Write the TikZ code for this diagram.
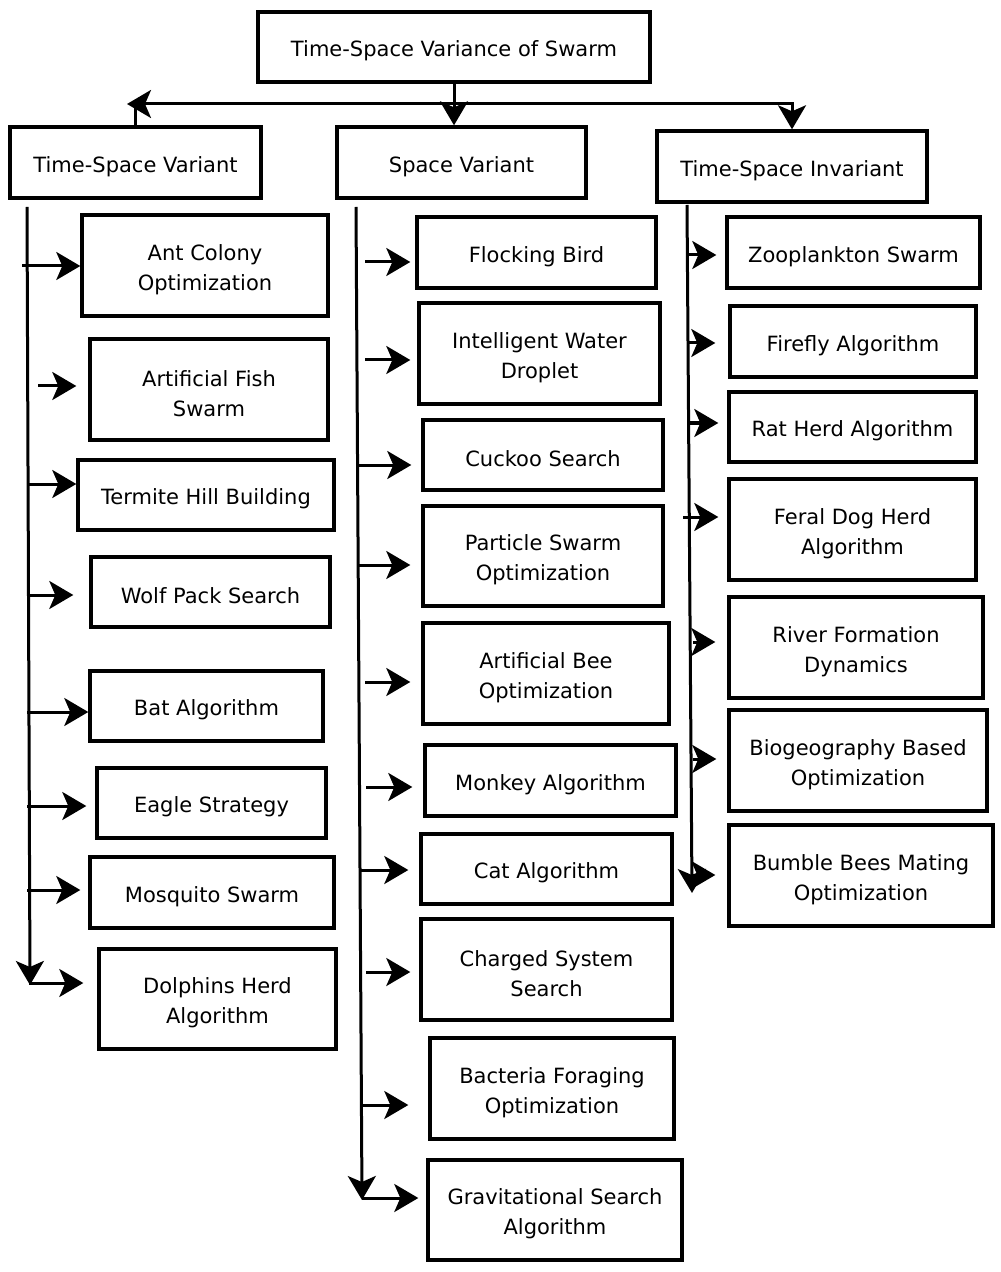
\documentclass[tikz,border=0pt]{standalone}
\usepackage{fontspec}
\setmainfont{DejaVu Sans}
\usetikzlibrary{arrows.meta}
\tikzset{
  box/.style={draw, line width=1.7pt, inner sep=0pt},
  lbl/.style={align=center, inner sep=0pt, yshift=-2pt,
    font=\fontsize{10.5}{15}\selectfont},
  ln/.style={line width=1.5pt},
  arr/.style={line width=1.5pt, -{Stealth[length=12pt,width=14pt,inset=3pt]}}
}
\newcommand{\bxn}[7]{\node[box, minimum width=#4pt, minimum height=#5pt,
  label={[lbl]center:{#6}}] (#1) at (#2,#3) {};}
\newcommand{\brn}[4]{\coordinate (s#3) at (#1,#2); \draw[arr, shorten >=#4pt] (s#3) -- (#3.west |- s#3);}
\begin{document}
\begin{tikzpicture}[x=0.5pt,y=-0.5pt]
\useasboundingbox (0,0) rectangle (1000,1272);
% top level
\bxn{Root}{454}{47}{196}{35}{Time-Space Variance of Swarm}{}
\bxn{TSV}{135.5}{162.5}{125.5}{35.5}{Time-Space Variant}{}
\bxn{SV}{461.5}{162.5}{124.5}{35.5}{Space Variant}{}
\bxn{TSI}{792}{166.5}{135}{35.5}{Time-Space Invariant}{}
% column 1
\bxn{ACO}{205}{265.5}{123}{50.5}{Ant Colony\\Optimization}{}
\bxn{AFS}{209}{389.5}{119}{50.5}{Artificial Fish\\Swarm}{}
\bxn{THB}{206}{495}{128}{35}{Termite Hill Building}{}
\bxn{WPS}{210.5}{592}{119.5}{35}{Wolf Pack Search}{}
\bxn{BAT}{206.5}{706}{116.5}{35}{Bat Algorithm}{}
\bxn{EAG}{211.5}{803}{114.5}{35}{Eagle Strategy}{}
\bxn{MOS}{212}{892.5}{122}{35.5}{Mosquito Swarm}{}
\bxn{DOL}{217.5}{999}{118.5}{50}{Dolphins Herd\\Algorithm}{}
% column 2
\bxn{FLO}{536.5}{252.5}{119.5}{35.5}{Flocking Bird}{}
\bxn{IWD}{539.5}{353.5}{120.5}{50.5}{Intelligent Water\\Droplet}{}
\bxn{CUC}{543}{455}{120}{35}{Cuckoo Search}{}
\bxn{PSO}{543}{556}{120}{50}{Particle Swarm\\Optimization}{}
\bxn{ABO}{546}{673.5}{123}{50.5}{Artificial Bee\\Optimization}{}
\bxn{MON}{550.5}{780.5}{125.5}{35.5}{Monkey Algorithm}{}
\bxn{CAT}{546.5}{869}{125.5}{35}{Cat Algorithm}{}
\bxn{CSS}{546.5}{969.5}{125.5}{50.5}{Charged System\\Search}{}
\bxn{BFO}{552}{1088.5}{122}{50.5}{Bacteria Foraging\\Optimization}{}
\bxn{GSA}{555}{1210}{127}{50}{Gravitational Search\\Algorithm}{}
% column 3
\bxn{ZOO}{853.5}{252.5}{126.5}{35.5}{Zooplankton Swarm}{}
\bxn{FIR}{853}{341.5}{123}{35.5}{Firefly Algorithm}{}
\bxn{RAT}{852.5}{427}{123.5}{35}{Rat Herd Algorithm}{}
\bxn{FER}{852.5}{529.5}{123.5}{50.5}{Feral Dog Herd\\Algorithm}{}
\bxn{RIV}{856}{647.5}{127}{50.5}{River Formation\\Dynamics}{}
\bxn{BIO}{858}{760.5}{129}{50.5}{Biogeography Based\\Optimization}{}
\bxn{BUM}{861}{875.5}{132}{50.5}{Bumble Bees Mating\\Optimization}{}
% top connectors
\coordinate (J) at (455,104);
\coordinate (L) at (127,104);
\draw[arr] (Root.south) -- (Root.south |- SV.north);
\draw[arr] (J) -- (L);
\draw[ln] (TSV.north |- L) -- (TSV.north);
\draw[arr] (J) -| (TSI.north);
% trunks
\coordinate (t1a) at (27,207); \coordinate (t1b) at (30,985);
\coordinate (t2a) at (356,207); \coordinate (t2b) at (362,1200);
\coordinate (t3a) at (687,205); \coordinate (t3b) at (692,893);
\draw[arr] (t1a) -- (t1b);
\draw[arr] (t2a) -- (t2b);
\draw[arr] (t3a) -- (t3b);
% column 1 branches
\brn{22}{266}{ACO}{0}
\brn{38}{386}{AFS}{6}
\brn{27}{484}{THB}{0}
\brn{27}{595}{WPS}{8}
\brn{27}{712}{BAT}{0}
\brn{27}{806}{EAG}{4.5}
\brn{27}{890}{MOS}{4}
\brn{29}{983}{DOL}{7}
% column 2 branches
\brn{365}{262}{FLO}{2.5}
\brn{365}{360}{IWD}{3.5}
\brn{357}{465}{CUC}{5}
\brn{357}{565}{PSO}{5.5}
\brn{365}{682}{ABO}{5.5}
\brn{366}{787}{MON}{5.5}
\brn{360}{870}{CAT}{5.5}
\brn{366}{972}{CSS}{4.5}
\brn{362}{1105}{BFO}{10}
\brn{362}{1198}{GSA}{4}
% column 3 branches
\brn{688}{255}{ZOO}{4.5}
\brn{688}{343}{FIR}{6.5}
\brn{690}{423}{RAT}{4.5}
\brn{683}{517}{FER}{4.5}
\brn{693}{642}{RIV}{6}
\brn{693}{759}{BIO}{5.5}
\brn{693}{875}{BUM}{6}
\end{tikzpicture}
\end{document}
